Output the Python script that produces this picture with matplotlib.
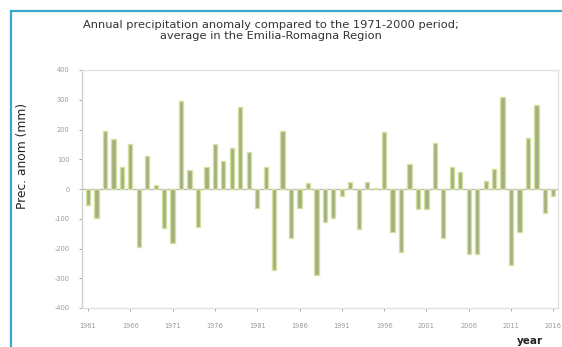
import matplotlib
matplotlib.use("Agg")
import matplotlib.pyplot as plt
from matplotlib.lines import Line2D
import numpy as np

# Annual precipitation anomaly (mm) vs 1971-2000, Emilia-Romagna average
years = list(range(1961, 2017))
anomaly_mm = [
    -55, -97, 195, 167, 73, 150, -195, 112, 12, -130,
    -180, 295, 64, -128, 75, 152, 95, 137, 275, 126,
    -65, 75, -272, 194, -166, -63, 21, -288, -110, -96,
    -22, 22, -133, 22, 5, 193, -145, -212, 85, -66,
    -66, 154, -164, 73, 56, -217, -217, 28, 66, 310,
    -256, -145, 172, 283, -80, -22,
]
xtick_years = list(range(1961, 2017, 5))
ytick_values = [400, 300, 200, 100, 0, -100, -200, -300, -400]

W, H = 562, 347
fig = plt.figure(figsize=(W / 100, H / 100), dpi=100)
fig.patch.set_facecolor("white")

# page frame lines (top and left)
blue = "#3ba4cf"
fig.add_artist(Line2D([11 / W, 1.0], [1 - 11 / H, 1 - 11 / H], color=blue, lw=1.6))
fig.add_artist(Line2D([11 / W, 11 / W], [0.0, 1 - 11 / H], color=blue, lw=1.6))

# title
fig.text(271 / W, 1 - 30.5 / H,
         "Annual precipitation anomaly compared to the 1971-2000 period;\n"
         "average in the Emilia-Romagna Region",
         ha="center", va="center", fontsize=8.2, color="#333333",
         linespacing=1.05, family="DejaVu Sans")

# plot area
left, right = 82 / W, 558 / W
bottom, top = 1 - 308 / H, 1 - 70 / H
ax = fig.add_axes([left, bottom, right - left, top - bottom])
ax.set_facecolor("white")

ax.bar(years, anomaly_mm, width=0.5, color="#a3af7c",
       edgecolor="#d3e2a2", linewidth=1.0, zorder=3)
ax.axhline(0, color="#b5b5b5", lw=0.9, zorder=2)

ax.set_xlim(1960.29, 2016.55)
ax.set_ylim(-400, 400)
ax.set_yticks(ytick_values)
ax.set_yticklabels([str(v) for v in ytick_values])
ax.set_xticks(xtick_years)
ax.set_xticklabels([str(y) for y in xtick_years])
ax.tick_params(axis="both", labelsize=4.8, colors="#9a9a9a", length=2,
               width=0.6)
ax.tick_params(axis="y", pad=7)
ax.tick_params(axis="x", pad=9)

for side in ("top", "bottom", "right"):
    ax.spines[side].set_color("#e2e2e2")
    ax.spines[side].set_linewidth(1.0)
ax.spines["left"].set_color("#cfcfcf")
ax.spines["left"].set_linewidth(1.0)

# axis labels
fig.text(23 / W, 1 - 156 / H, "Prec. anom (mm)", rotation=90,
         ha="center", va="center", fontsize=8.8, color="#222222",
         family="DejaVu Sans")
fig.text(530 / W, 1 - 341 / H, "year", ha="center", va="center",
         fontsize=7.5, fontweight="bold", color="#222222",
         family="DejaVu Sans")

fig.savefig("out.png", dpi=100, facecolor="white")
